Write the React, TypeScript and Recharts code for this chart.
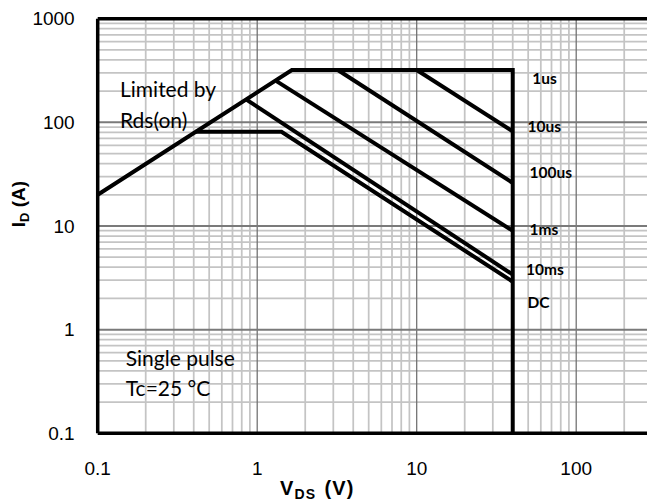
import React from "react";
import {
  ComposedChart,
  Line,
  Scatter,
  XAxis,
  YAxis,
  ReferenceLine,
  ReferenceArea,
} from "recharts";

// SOA boundaries: V_DS (V) against I_D (A)
const limitV = [0.1, 1.65, 40, 40]; // Rds(on) slope, package limit, BVdss
const limitI = [20, 320, 320, 0.1];
const us10V = [10, 40];
const us10I = [320, 82];
const us100V = [3.2, 40];
const us100I = [320, 26];
const ms1V = [1.32, 40];
const ms1I = [250, 9];
const ms10V = [0.86, 40];
const ms10I = [165, 3.4];
const dcV = [0.41, 1.42, 40];
const dcI = [81, 81, 2.9];

// curve tags at the right of the 40 V edge
const curveNames = ["1us", "10us", "100us", "1ms", "10ms", "DC"];
const curveTagV = [53, 49.5, 51, 51, 48.5, 49.5];
const curveTagI = [234, 81, 29, 8.2, 3.37, 1.62];

const noteText = ["Limited by", "Rds(on)", "Single pulse", "Tc=25 °C"];
const noteV = [0.138, 0.138, 0.15, 0.15];
const noteI = [174.5, 87.6, 0.449, 0.2307];
const noteBoxV = [0.148, 1.35];
const noteBoxI = [0.195, 0.74];

const xTicks = [0.1, 1, 10, 100];
const yTicks = [0.1, 1, 10, 100, 1000];
const majorGrid = [1, 10, 100];
const decades = [0.1, 1, 10, 100];
const steps = [2, 3, 4, 5, 6, 7, 8, 9];
const minorGrid = decades.flatMap((d) => steps.map((s) => +(s * d).toPrecision(3)));

const pts = (v: number[], i: number[]) => v.map((x, k) => ({ v: x, i: i[k] }));

const curves = [
  pts(limitV, limitI),
  pts(us10V, us10I),
  pts(us100V, us100I),
  pts(ms1V, ms1I),
  pts(ms10V, ms10I),
  pts(dcV, dcI),
];

const tags = curveNames.map((name, k) => ({ v: curveTagV[k], i: curveTagI[k], name }));
const notes = noteText.map((name, k) => ({ v: noteV[k], i: noteI[k], name }));

const tickStyle = { fontFamily: "Liberation Sans", fontSize: 19, fill: "#000" };

const CurveTag = (p: any) => (
  <text x={p.cx} y={p.cy} fontFamily="Lato" fontWeight={700} fontSize={15.5} fill="#000">
    {p.payload.name}
  </text>
);

const NoteText = (p: any) => (
  <text x={p.cx} y={p.cy} fontFamily="Lato" fontSize={21} fill="#000">
    {p.payload.name}
  </text>
);

const XTitle = () => (
  <text
    x={280}
    y={495}
    fontFamily="Liberation Sans"
    fontWeight={700}
    fontSize={20}
    letterSpacing={1.2}
    fill="#000"
  >
    <tspan>V</tspan>
    <tspan fontSize={14} dy={3.5}>DS</tspan>
    <tspan dy={-3.5} dx={8}>(V)</tspan>
  </text>
);

const YTitle = () => (
  <text
    transform="translate(25,204) rotate(-90)"
    textAnchor="middle"
    fontFamily="Liberation Sans"
    fontWeight={700}
    fontSize={19}
    fill="#000"
  >
    <tspan>I</tspan>
    <tspan fontSize={13} dy={4}>D</tspan>
    <tspan dy={-4}> (A)</tspan>
  </text>
);

export default function App() {
  return (
    <div
      style={{
        position: "absolute",
        left: 0,
        top: 0,
        width: 647,
        height: 501,
        overflow: "hidden",
        background: "#fff",
      }}
    >
      <ComposedChart width={746} height={501} margin={{ top: 18.7, right: 10.3, bottom: 17.7, left: 0 }}>
        <XAxis
          dataKey="v"
          type="number"
          scale="log"
          domain={[0.1, 1000]}
          allowDataOverflow
          ticks={xTicks}
          tickFormatter={(t) => String(t)}
          height={50}
          tickSize={0}
          tickMargin={28.5}
          tickLine={false}
          axisLine={{ stroke: "#000", strokeWidth: 3.5 }}
          tick={tickStyle}
          label={{ content: XTitle }}
        />
        <YAxis
          dataKey="i"
          type="number"
          scale="log"
          domain={[0.1, 1000]}
          allowDataOverflow
          ticks={yTicks}
          tickFormatter={(t) => String(t)}
          width={97.7}
          tickSize={0}
          tickMargin={23}
          tickLine={false}
          axisLine={{ stroke: "#000", strokeWidth: 3.5 }}
          tick={tickStyle}
          label={{ content: YTitle }}
        />
        {minorGrid.map((g) => (
          <ReferenceLine key={"mx" + g} x={g} stroke="#c4c4c4" strokeWidth={1.75} />
        ))}
        {minorGrid.map((g) => (
          <ReferenceLine key={"my" + g} y={g} stroke="#c4c4c4" strokeWidth={1.75} />
        ))}
        {majorGrid.map((g) => (
          <ReferenceLine key={"Mx" + g} x={g} stroke="#6e6e6e" strokeWidth={1.25} />
        ))}
        {majorGrid.map((g) => (
          <ReferenceLine key={"My" + g} y={g} stroke="#7a7a7a" strokeWidth={2} />
        ))}
        <ReferenceArea
          x1={noteBoxV[0]}
          x2={noteBoxV[1]}
          y1={noteBoxI[0]}
          y2={noteBoxI[1]}
          fill="#fff"
          fillOpacity={1}
          stroke="none"
        />
        <ReferenceLine y={1000} stroke="#000" strokeWidth={3.5} />
        {curves.map((d, k) => (
          <Line
            key={k}
            data={d}
            dataKey="i"
            type="linear"
            stroke="#000"
            strokeWidth={4}
            dot={false}
            activeDot={false}
            isAnimationActive={false}
          />
        ))}
        <Scatter data={tags} shape={CurveTag} isAnimationActive={false} />
        <Scatter data={notes} shape={NoteText} isAnimationActive={false} />
      </ComposedChart>
    </div>
  );
}
